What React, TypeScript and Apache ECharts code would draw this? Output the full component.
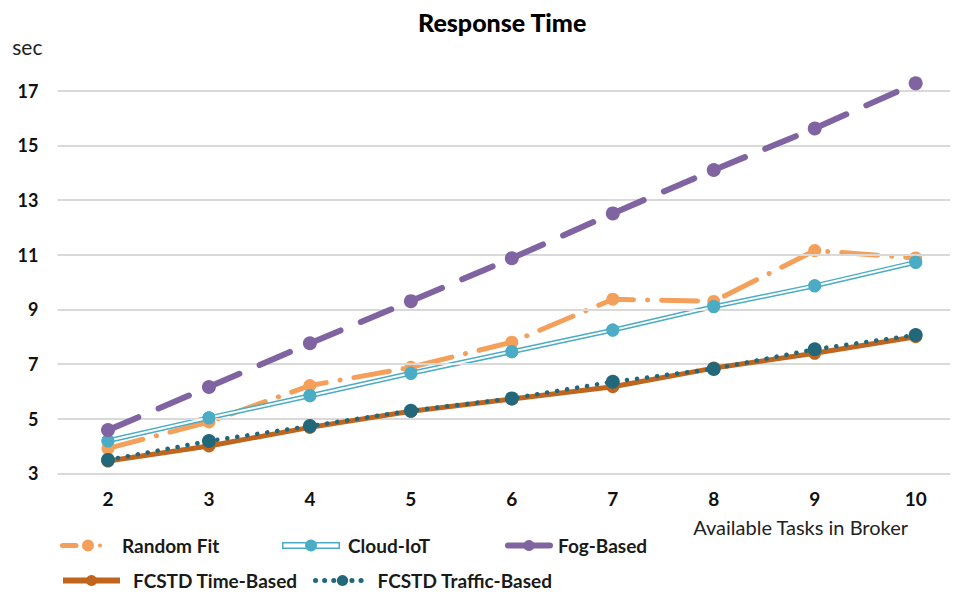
import React, { useEffect, useRef } from "react";
import * as echarts from "echarts";

const tasks = [2, 3, 4, 5, 6, 7, 8, 9, 10];
const randomFit = [3.91, 4.88, 6.21, 6.88, 7.8, 9.37, 9.29, 11.15, 10.88];
const cloudIoT = [4.19, 5.03, 5.84, 6.66, 7.45, 8.24, 9.1, 9.86, 10.72];
const fogBased = [4.58, 6.16, 7.76, 9.3, 10.87, 12.51, 14.1, 15.62, 17.27];
const fcstdTime = [3.45, 4.0, 4.68, 5.27, 5.72, 6.17, 6.85, 7.39, 8.0];
const fcstdTraffic = [3.49, 4.18, 4.73, 5.29, 5.74, 6.35, 6.82, 7.54, 8.06];
const yTicks = [3, 5, 7, 9, 11, 13, 15, 17];
const xTicks = [2, 3, 4, 5, 6, 7, 8, 9, 10];

const FONT = "Lato";

const pairs = (vals: number[]) => tasks.map((t, i) => [t, vals[i]]);

// legend icon shapes (double line with marker, dash-dot with marker)
const CLOUD_ICON =
  "path://M0,3.5H58V5H0Z M0,9H58V10.5H0Z M0,3.5H1.5V10.5H0Z M56.5,3.5H58V10.5H56.5Z M23,7A6,6 0 1 1 35,7A6,6 0 1 1 23,7Z";
const RANDOM_ICON =
  "path://M2.5,4.5H16A2.5,2.5 0 0 1 16,9.5H2.5A2.5,2.5 0 0 1 2.5,4.5Z M22,7A6,6 0 1 1 34,7A6,6 0 1 1 22,7Z M38,7A2,2 0 1 1 42,7A2,2 0 1 1 38,7Z M0,1H0.01V13H0Z";

export default function App() {
  const ref = useRef<HTMLDivElement>(null);
  useEffect(() => {
    if (!ref.current) return;
    const chart = echarts.init(ref.current, undefined, { renderer: "svg" });
    const legendText = { fontSize: 19, fontWeight: "bold", color: "#1a1a1a", fontFamily: FONT };
    const mkLegend = (
      name: string,
      left: number,
      top: number,
      w: number,
      pad: number,
      extra: any = {}
    ) => ({
      data: [name],
      left,
      top,
      itemWidth: w,
      itemHeight: 14,
      padding: 0,
      selectedMode: false,
      textStyle: { ...legendText, padding: [0, 0, 0, pad] },
      ...extra,
    });
    const option: any = {
      animation: false,
      backgroundColor: "#ffffff",
      textStyle: { fontFamily: FONT },
      title: {
        text: "Response Time",
        left: 413,
        top: 4,
        textStyle: { fontSize: 25, fontWeight: 900, color: "#000", fontFamily: FONT },
      },
      legend: [
        mkLegend("Random Fit", 60, 536, 42, 15, { icon: RANDOM_ICON, itemStyle: { borderWidth: 0 } }),
        mkLegend("Cloud-IoT", 282, 536, 58, 3, { icon: CLOUD_ICON, itemStyle: { borderWidth: 0 } }),
        mkLegend("Fog-Based", 505, 536, 42, 3, { lineStyle: { width: 6, type: "solid" } }),
        mkLegend("FCSTD Time-Based", 60, 571, 57, 8, { lineStyle: { width: 6, type: "solid" } }),
        mkLegend("FCSTD Traffic-Based", 313, 571, 54, 3, {
          lineStyle: { width: 5, type: [0.1, 9], cap: "round" },
        }),
      ],
      grid: { left: 57.5, right: 5, top: 63.4, bottom: 118.7, outerBoundsMode: "none" },
      xAxis: {
        type: "value",
        min: 1.5,
        max: 10.34,
        axisLine: { show: false },
        axisTick: { show: false },
        splitLine: { show: false },
        axisLabel: {
          customValues: xTicks,
          fontSize: 19,
          fontWeight: "bold",
          color: "#111",
          margin: 16,
          fontFamily: FONT,
        },
        name: "Available Tasks in Broker",
        nameLocation: "end",
        nameGap: 0,
        nameTextStyle: {
          fontSize: 20,
          color: "#222",
          align: "right",
          verticalAlign: "top",
          padding: [44, 42, 0, 0],
          fontFamily: FONT,
        },
      },
      yAxis: {
        type: "value",
        min: 3,
        max: 18,
        axisLine: { show: false },
        axisTick: { show: false },
        splitLine: { show: false },
        axisLabel: {
          customValues: yTicks,
          fontSize: 18,
          fontWeight: "bold",
          color: "#111",
          margin: 19,
          fontFamily: FONT,
        },
        name: "sec",
        nameLocation: "end",
        nameGap: 6,
        nameTextStyle: {
          fontSize: 21,
          color: "#222",
          align: "right",
          verticalAlign: "bottom",
          padding: [0, 15, 0, 0],
          fontFamily: FONT,
        },
      },
      series: [
        {
          type: "line",
          name: "gridlines",
          data: [],
          silent: true,
          z: 1,
          markLine: {
            silent: true,
            symbol: ["none", "none"],
            label: { show: false },
            lineStyle: { color: "#d9d9d9", width: 2, type: "solid" },
            emphasis: { disabled: true },
            data: yTicks.map((v) => ({ yAxis: v })),
          },
        },
        {
          type: "line",
          name: "Random Fit",
          data: pairs(randomFit),
          z: 3,
          color: "#F4A05A",
          symbol: "circle",
          symbolSize: 13,
          lineStyle: { width: 5, type: [36, 14, 0.1, 14], cap: "round" },
          emphasis: { disabled: true },
        },
        {
          type: "line",
          name: "Cloud-IoT",
          data: pairs(cloudIoT),
          z: 4,
          color: "#4BACC6",
          symbol: "circle",
          symbolSize: 13,
          lineStyle: { width: 5 },
          emphasis: { disabled: true },
        },
        {
          type: "line",
          name: "Cloud-IoT inner",
          data: pairs(cloudIoT),
          z: 5,
          color: "#ffffff",
          symbol: "none",
          lineStyle: { width: 2 },
          silent: true,
          emphasis: { disabled: true },
        },
        {
          type: "line",
          name: "Cloud-IoT markers",
          data: pairs(cloudIoT),
          z: 6,
          color: "#4BACC6",
          symbol: "circle",
          symbolSize: 13,
          lineStyle: { width: 0, opacity: 0 },
          silent: true,
          emphasis: { disabled: true },
        },
        {
          type: "line",
          name: "Fog-Based",
          data: pairs(fogBased),
          z: 7,
          color: "#8064A2",
          symbol: "circle",
          symbolSize: 14,
          lineStyle: { width: 6, type: [33, 22], cap: "round" },
          emphasis: { disabled: true },
        },
        {
          type: "line",
          name: "FCSTD Time-Based",
          data: pairs(fcstdTime),
          z: 8,
          color: "#C0651E",
          symbol: "circle",
          symbolSize: 13,
          lineStyle: { width: 5 },
          emphasis: { disabled: true },
        },
        {
          type: "line",
          name: "FCSTD Traffic-Based",
          data: pairs(fcstdTraffic),
          z: 9,
          color: "#22687A",
          symbol: "circle",
          symbolSize: 14,
          lineStyle: { width: 4.5, type: [0.1, 10], cap: "round" },
          emphasis: { disabled: true },
        },
      ],
    };
    chart.setOption(option);
    return () => chart.dispose();
  }, []);
  return (
    <div
      ref={ref}
      style={{ position: "fixed", left: 0, top: 0, width: 955, height: 592, background: "#fff" }}
    />
  );
}
